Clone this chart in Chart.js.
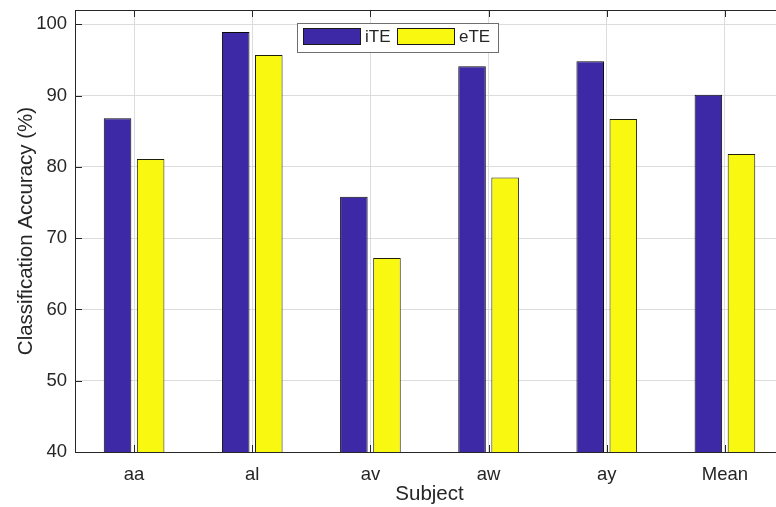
<!DOCTYPE html>
<html>
<head>
<meta charset="utf-8">
<script src="https://cdn.jsdelivr.net/npm/chart.js@4.4.1/dist/chart.umd.min.js"></script>
<style>
  html, body { margin: 0; padding: 0; background: #fff; overflow: hidden; }
  #wrap { position: relative; width: 790px; height: 507px; }
</style>
</head>
<body>
<div id="wrap"><canvas id="c"></canvas></div>
<script>
// Subjects and classification accuracy (%) per method
const subjects = ['aa', 'al', 'av', 'aw', 'ay', 'Mean'];
const iTE = [86.8, 98.9, 75.8, 94.1, 94.8, 90.1];
const eTE = [81.1, 95.7, 67.2, 78.5, 86.7, 81.8];
const yTicks = [40, 50, 60, 70, 80, 90, 100];

const INK = '#262626';
const FONT = "'Liberation Sans', Arial, Helvetica, sans-serif";

// Box outline, inward tick marks and the legend, drawn after the bars
const framePlugin = {
  id: 'frame',
  afterDatasetsDraw(chart) {
    const { ctx, chartArea: a, scales } = chart;
    ctx.save();
    ctx.strokeStyle = INK;
    ctx.lineWidth = 1;
    // top and right edges
    ctx.beginPath();
    ctx.moveTo(Math.round(a.left) + 0.5, Math.round(a.top) + 0.5);
    ctx.lineTo(Math.round(a.right) + 0.5, Math.round(a.top) + 0.5);
    ctx.lineTo(Math.round(a.right) + 0.5, Math.round(a.bottom) + 0.5);
    ctx.stroke();
    // x ticks on top and bottom edges
    const tl = 7;
    ctx.beginPath();
    subjects.forEach((s, i) => {
      const x = Math.round(scales.x.getPixelForValue(i)) + 0.5;
      ctx.moveTo(x, a.top); ctx.lineTo(x, a.top + tl);
      ctx.moveTo(x, a.bottom); ctx.lineTo(x, a.bottom - tl);
    });
    // y ticks on left and right edges
    yTicks.forEach(v => {
      const y = Math.round(scales.y.getPixelForValue(v)) + 0.5;
      ctx.moveTo(a.left, y); ctx.lineTo(a.left + tl, y);
      ctx.moveTo(a.right, y); ctx.lineTo(a.right - tl, y);
    });
    ctx.stroke();

    // legend
    const bx = 297, by = 23, bw = 201, bh = 29;
    ctx.fillStyle = '#fff';
    ctx.fillRect(bx, by, bw, bh);
    ctx.strokeStyle = '#6e6e6e';
    ctx.strokeRect(bx + 0.5, by + 0.5, bw, bh);
    ctx.font = '17px ' + FONT;
    ctx.textBaseline = 'middle';
    const items = chart.data.datasets;
    const swX = [303, 397];
    items.forEach((ds, i) => {
      const sx = swX[i], sy = 28;
      ctx.fillStyle = ds.backgroundColor;
      ctx.fillRect(sx, sy, 58, 17);
      ctx.strokeStyle = '#1a1a1a';
      ctx.strokeRect(sx + 0.5, sy + 0.5, 57, 16);
      ctx.fillStyle = INK;
      ctx.fillText(ds.label, sx + 62, sy + 9);
    });
    ctx.restore();
  }
};

new Chart(document.getElementById('c'), {
  type: 'bar',
  data: {
    labels: subjects,
    datasets: [
      { label: 'iTE', data: iTE, backgroundColor: '#3D29A6', borderColor: '#0a0a0a', borderWidth: 1,
        categoryPercentage: 0.56, barPercentage: 0.833 },
      { label: 'eTE', data: eTE, backgroundColor: '#F8F810', borderColor: '#1e1e0a', borderWidth: 1,
        categoryPercentage: 0.56, barPercentage: 0.833 }
    ]
  },
  options: {
    responsive: true,
    maintainAspectRatio: false,
    animation: false,
    layout: { padding: { top: 10, right: 6, left: 0, bottom: 0 } },
    plugins: { legend: { display: false }, tooltip: { enabled: false } },
    scales: {
      x: {
        grid: { offset: false, color: '#dcdcdc', lineWidth: 1, drawTicks: false },
        border: { display: true, color: INK, width: 1 },
        ticks: { color: INK, font: { family: FONT, size: 18.5 }, padding: 12 },
        title: { display: true, text: 'Subject', color: INK, font: { family: FONT, size: 20.5 }, padding: { top: 2, bottom: 0 } },
        afterFit(scale) { scale.height = 55; scale.paddingLeft = 0; scale.paddingRight = 0; }
      },
      y: {
        min: 40, max: 102,
        grid: { color: '#dcdcdc', lineWidth: 1, drawTicks: false },
        border: { display: true, color: INK, width: 1 },
        ticks: { stepSize: 10, includeBounds: false, color: INK, font: { family: FONT, size: 18.5 }, padding: 8 },
        title: { display: true, text: 'Classification Accuracy (%)', color: INK, font: { family: FONT, size: 20.5 }, padding: { top: 14, bottom: 0 } },
        afterFit(scale) { scale.width = 75; scale.paddingTop = 0; scale.paddingBottom = 0; }
      }
    }
  },
  plugins: [framePlugin]
});
</script>
</body>
</html>
